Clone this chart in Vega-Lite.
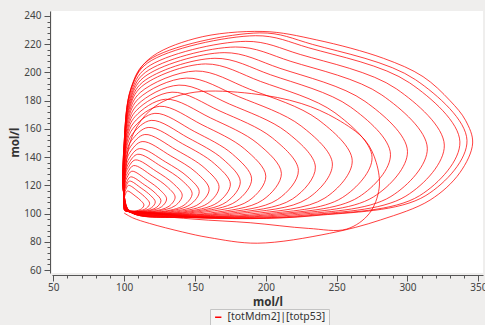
{
"$schema": "https://vega.github.io/schema/vega-lite/v6.json",
"width": 431, "height": 262,
"autosize": "none",
"padding": {"left": 52, "top": 11, "right": 2, "bottom": 52},
"background": "#efeeed",
"view": {"fill": "#ffffff", "stroke": null},
"config": {"font": "Noto Sans"},
"data": {"values": [
{"x":100,"y":100.4},{"x":106,"y":97},{"x":118,"y":93},{"x":141,"y":87},{"x":160,"y":83},{"x":194,"y":79},{"x":245,"y":86},{"x":281,"y":95.5},{"x":316,"y":109.6},{"x":337,"y":129},{"x":346,"y":150},{"x":341,"y":166},{"x":330,"y":180},{"x":311,"y":197},{"x":283,"y":210},{"x":236,"y":223},{"x":198,"y":229},{"x":150,"y":224},{"x":117,"y":209},{"x":105,"y":189},{"x":100,"y":150},{"x":100,"y":113},
{"x":104.8,"y":101},{"x":148.4,"y":97.1},{"x":233.1,"y":98.4},{"x":313,"y":112.8},{"x":342,"y":151.8},{"x":305.7,"y":194.8},{"x":233.1,"y":219.8},{"x":195.8,"y":228},{"x":116.9,"y":208.4},{"x":104.8,"y":188.7},{"x":100,"y":149.5},{"x":100,"y":112.8},
{"x":104.7,"y":101.1},{"x":147.4,"y":97.2},{"x":230.4,"y":98.5},{"x":308.6,"y":112.7},{"x":337,"y":150.8},{"x":301.5,"y":192.6},{"x":230.4,"y":217.4},{"x":192.7,"y":226},{"x":116.6,"y":206.7},{"x":104.7,"y":187.4},{"x":100,"y":148.7},{"x":100,"y":112.7},
{"x":104.5,"y":101.1},{"x":145.2,"y":97.4},{"x":224.3,"y":98.6},{"x":298.9,"y":112.4},{"x":326,"y":148.5},{"x":292.1,"y":188.4},{"x":224.3,"y":212.7},{"x":185.9,"y":222},{"x":115.8,"y":203.3},{"x":104.5,"y":184.6},{"x":100,"y":147.2},{"x":100,"y":112.4},
{"x":104.3,"y":101.3},{"x":142.8,"y":97.7},{"x":217.7,"y":98.9},{"x":288.3,"y":112.1},{"x":314,"y":146.3},{"x":281.9,"y":184},{"x":217.7,"y":207.8},{"x":178.6,"y":218},{"x":115,"y":200},{"x":104.3,"y":181.9},{"x":100,"y":145.8},{"x":100,"y":112.1},
{"x":104,"y":101.4},{"x":140,"y":97.9},{"x":210,"y":99.1},{"x":276,"y":111.8},{"x":300,"y":144.1},{"x":270,"y":179.5},{"x":210,"y":202.9},{"x":170.6,"y":214},{"x":114,"y":196.6},{"x":104,"y":179.2},{"x":100,"y":144.3},{"x":100,"y":111.8},
{"x":103.8,"y":101.6},{"x":137.6,"y":98.2},{"x":203.4,"y":99.3},{"x":265.4,"y":111.6},{"x":288,"y":142},{"x":259.8,"y":175.5},{"x":203.4,"y":198.3},{"x":164.1,"y":210},{"x":113.2,"y":193.2},{"x":103.8,"y":176.5},{"x":100,"y":142.9},{"x":100,"y":111.6},
{"x":103.5,"y":101.6},{"x":135,"y":98.4},{"x":196.3,"y":99.5},{"x":254,"y":111.3},{"x":275,"y":139.8},{"x":248.8,"y":171.4},{"x":196.3,"y":193.6},{"x":157.4,"y":206},{"x":112.3,"y":189.9},{"x":103.5,"y":173.7},{"x":100,"y":141.4},{"x":100,"y":111.3},
{"x":103.2,"y":101.8},{"x":132.2,"y":98.7},{"x":188.6,"y":99.7},{"x":241.7,"y":111},{"x":261,"y":137.5},{"x":236.9,"y":166.6},{"x":188.6,"y":188.1},{"x":150.6,"y":201},{"x":111.3,"y":185.7},{"x":103.2,"y":170.3},{"x":100,"y":139.6},{"x":100,"y":111},
{"x":102.9,"y":101.9},{"x":129.4,"y":99},{"x":180.9,"y":100},{"x":229.4,"y":110.6},{"x":247,"y":135.1},{"x":225,"y":162},{"x":180.9,"y":182.8},{"x":144.1,"y":196},{"x":110.3,"y":181.5},{"x":102.9,"y":166.9},{"x":100,"y":137.8},{"x":100,"y":110.6},
{"x":102.7,"y":102.1},{"x":127,"y":99.3},{"x":174.3,"y":100.2},{"x":218.8,"y":110.3},{"x":235,"y":132.9},{"x":214.8,"y":157.7},{"x":174.3,"y":177.6},{"x":138.7,"y":191},{"x":109.5,"y":177.2},{"x":102.7,"y":163.5},{"x":100,"y":136},{"x":100,"y":110.3},
{"x":102.5,"y":102.1},{"x":124.6,"y":99.5},{"x":167.7,"y":100.4},{"x":208.2,"y":109.9},{"x":223,"y":130.6},{"x":204.6,"y":153.6},{"x":167.7,"y":172.6},{"x":133.8,"y":186},{"x":108.6,"y":173},{"x":102.5,"y":160.1},{"x":100,"y":134.1},{"x":100,"y":109.9},
{"x":102.2,"y":102.1},{"x":122.2,"y":99.7},{"x":161.1,"y":100.5},{"x":197.7,"y":109.5},{"x":211,"y":128.5},{"x":194.4,"y":149.5},{"x":161.1,"y":167.7},{"x":129.2,"y":181},{"x":107.8,"y":168.8},{"x":102.2,"y":156.6},{"x":100,"y":132.2},{"x":100,"y":109.5},
{"x":102,"y":102.3},{"x":120,"y":100},{"x":155,"y":100.8},{"x":188,"y":109.1},{"x":200,"y":126.5},{"x":185,"y":145.8},{"x":155,"y":162.9},{"x":125.2,"y":176},{"x":107,"y":164.6},{"x":102,"y":153.2},{"x":100,"y":130.4},{"x":100,"y":109.1},
{"x":101.8,"y":102.3},{"x":118,"y":100.2},{"x":149.5,"y":100.9},{"x":179.2,"y":108.7},{"x":190,"y":124.6},{"x":176.5,"y":142.1},{"x":149.5,"y":158.2},{"x":121.7,"y":171},{"x":106.3,"y":160.4},{"x":101.8,"y":149.8},{"x":100,"y":128.5},{"x":100,"y":108.7},
{"x":101.6,"y":102.3},{"x":116.4,"y":100.3},{"x":145.1,"y":101},{"x":172.2,"y":108.2},{"x":182,"y":122.6},{"x":169.7,"y":138.6},{"x":145.1,"y":153.7},{"x":119.1,"y":166},{"x":105.7,"y":156.1},{"x":101.6,"y":146.3},{"x":100,"y":126.6},{"x":100,"y":108.2},
{"x":101.5,"y":102.3},{"x":115,"y":100.5},{"x":141.3,"y":101.1},{"x":166,"y":107.8},{"x":175,"y":120.9},{"x":163.8,"y":135.3},{"x":141.3,"y":149.4},{"x":117,"y":161},{"x":105.3,"y":151.9},{"x":101.5,"y":142.9},{"x":100,"y":124.7},{"x":100,"y":107.8},
{"x":101.3,"y":102.3},{"x":113.4,"y":100.6},{"x":136.9,"y":101.2},{"x":159,"y":107.2},{"x":167,"y":119},{"x":157,"y":132.1},{"x":136.9,"y":145},{"x":114.6,"y":156},{"x":104.7,"y":147.7},{"x":101.3,"y":139.4},{"x":100,"y":122.8},{"x":100,"y":107.2},
{"x":101.2,"y":102.3},{"x":112,"y":100.8},{"x":133,"y":101.3},{"x":152.8,"y":106.8},{"x":160,"y":117.3},{"x":151,"y":129},{"x":133,"y":140.8},{"x":112.7,"y":151},{"x":104.2,"y":143.5},{"x":101.2,"y":135.9},{"x":100,"y":120.9},{"x":100,"y":106.8},
{"x":101.1,"y":102.3},{"x":110.6,"y":100.9},{"x":129.2,"y":101.4},{"x":146.6,"y":106.3},{"x":153,"y":115.6},{"x":145,"y":125.9},{"x":129.2,"y":136.6},{"x":110.8,"y":146},{"x":103.7,"y":139.2},{"x":101.1,"y":132.5},{"x":100,"y":118.9},{"x":100,"y":106.3},
{"x":101,"y":102.2},{"x":109.6,"y":101},{"x":126.4,"y":101.4},{"x":142.2,"y":105.9},{"x":148,"y":114.2},{"x":140.8,"y":123.5},{"x":126.4,"y":133.3},{"x":109.6,"y":142},{"x":103.4,"y":135.9},{"x":101,"y":129.7},{"x":100,"y":117.4},{"x":100,"y":105.9},
{"x":100.8,"y":102.3},{"x":108.2,"y":101.2},{"x":122.6,"y":101.6},{"x":136.1,"y":105.6},{"x":141,"y":113},{"x":134.9,"y":121.1},{"x":122.6,"y":130},{"x":107.9,"y":138},{"x":102.9,"y":132.5},{"x":100.8,"y":127},{"x":100,"y":115.9},{"x":100,"y":105.6},
{"x":100.7,"y":102.3},{"x":107.2,"y":101.3},{"x":119.8,"y":101.6},{"x":131.7,"y":105.2},{"x":136,"y":111.7},{"x":130.6,"y":118.8},{"x":119.8,"y":126.7},{"x":106.7,"y":134},{"x":102.5,"y":129.1},{"x":100.7,"y":124.2},{"x":100,"y":114.4},{"x":100,"y":105.2},
{"x":100.6,"y":102.3},{"x":106,"y":101.4},{"x":116.5,"y":101.7},{"x":126.4,"y":104.8},{"x":130,"y":110.4},{"x":125.5,"y":116.6},{"x":116.5,"y":123.5},{"x":105.4,"y":130},{"x":102.1,"y":125.7},{"x":100.6,"y":121.4},{"x":100,"y":112.8},{"x":100,"y":104.8},
{"x":100.5,"y":102.2},{"x":105.2,"y":101.5},{"x":114.3,"y":101.7},{"x":122.9,"y":104.4},{"x":126,"y":109.2},{"x":122.1,"y":114.4},{"x":114.3,"y":120.4},{"x":104.6,"y":126},{"x":101.8,"y":122.3},{"x":100.5,"y":118.7},{"x":100,"y":111.3},{"x":100,"y":104.4},
{"x":100.4,"y":102.2},{"x":104.4,"y":101.6},{"x":112.1,"y":101.8},{"x":119.4,"y":104.2},{"x":122,"y":108.3},{"x":118.7,"y":112.8},{"x":112.1,"y":118},{"x":103.8,"y":123},{"x":101.5,"y":119.8},{"x":100.4,"y":116.6},{"x":100,"y":110.2},{"x":100,"y":104.2},
{"x":100.4,"y":102.2},{"x":103.6,"y":101.6},{"x":109.9,"y":101.8},{"x":115.8,"y":103.8},{"x":118,"y":107.3},{"x":115.3,"y":111.1},{"x":109.9,"y":115.7},{"x":103,"y":120},{"x":101.3,"y":117.2},{"x":100.4,"y":114.5},{"x":100,"y":109},{"x":100,"y":103.8},
{"x":100.3,"y":102.1},{"x":102.8,"y":101.7},{"x":107.7,"y":101.8},{"x":112.3,"y":103.4},{"x":114,"y":106.1},{"x":111.9,"y":109.1},{"x":107.7,"y":112.6},{"x":102.3,"y":116},{"x":101,"y":113.9},{"x":100.3,"y":111.7},{"x":100,"y":107.4},{"x":100,"y":103.4},
{"x":101,"y":103},{"x":120,"y":99},{"x":150,"y":96},{"x":189,"y":93.5},{"x":230,"y":89.5},{"x":257,"y":89},{"x":273,"y":100},{"x":280,"y":118},{"x":278,"y":136},{"x":270,"y":152},{"x":250,"y":167},{"x":225,"y":178},{"x":190,"y":185},{"x":150,"y":186},{"x":125,"y":178},{"x":112,"y":166},{"x":104,"y":150},{"x":101,"y":130},{"x":100.5,"y":118}
]},
"layer": [
{
"mark": {"type": "line", "interpolate": "catmull-rom", "strokeWidth": 1, "opacity": 0.75},
"encoding": {
"x": {"field": "x", "type": "quantitative", "scale": {"domain": [49.1, 353.3], "nice": false, "zero": false},
"axis": {"orient": "bottom", "values": [50,100,150,200,250,300,350], "offset": 2, "tickSize": 6, "grid": false, "domainColor": "#555555", "tickColor": "#555555", "labelColor": "#444444", "labelFontSize": 10, "labelPadding": 1, "labelFlush": false, "title": "mol/l", "titleFontWeight": "bold", "titleFontSize": 11.5, "titleColor": "#333333", "titlePadding": 4}},
"y": {"field": "y", "type": "quantitative", "scale": {"domain": [57.9, 243.5], "nice": false, "zero": false},
"axis": {"orient": "left", "values": [60,80,100,120,140,160,180,200,220,240], "offset": 2, "tickSize": 6, "grid": false, "domainColor": "#555555", "tickColor": "#555555", "labelColor": "#444444", "labelFontSize": 10, "labelPadding": 3, "title": "mol/l", "titleFontWeight": "bold", "titleFontSize": 11.5, "titleColor": "#333333", "titlePadding": 3}},
"order": {"value": null},
"color": {"datum": "[totMdm2]|[totp53]", "type": "nominal", "scale": {"range": ["#ff0000"]},
"legend": {"orient": "none", "legendX": 158, "legendY": 298, "title": null, "fillColor": "#f6f6f5", "strokeColor": "#c4c4c4", "padding": 3, "labelFontSize": 10.5, "labelColor": "#333333", "symbolType": "stroke", "symbolStrokeWidth": 1.5, "symbolSize": 40, "symbolOpacity": 1}}
}
},
{
"mark": {"type": "line", "opacity": 0},
"encoding": {
"x": {"field": "x", "type": "quantitative",
"axis": {"orient": "bottom", "values": [60,70,80,90,110,120,130,140,160,170,180,190,210,220,230,240,260,270,280,290,310,320,330,340], "offset": 2, "tickSize": 3, "labels": false, "domain": false, "grid": false, "tickColor": "#555555", "title": null}},
"y": {"field": "y", "type": "quantitative",
"axis": {"orient": "left", "values": [64,68,72,76,84,88,92,96,104,108,112,116,124,128,132,136,144,148,152,156,164,168,172,176,184,188,192,196,204,208,212,216,224,228,232,236], "offset": 2, "tickSize": 3, "labels": false, "domain": false, "grid": false, "tickColor": "#555555", "title": null}},
"order": {"value": null}
}
}
],
"resolve": {"axis": {"x": "independent", "y": "independent"}}
}
